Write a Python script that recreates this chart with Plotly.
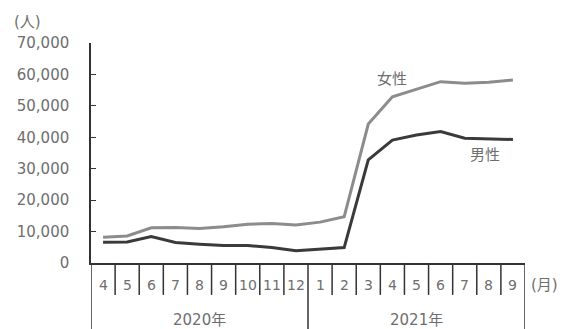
import plotly.graph_objects as go

months = ["4", "5", "6", "7", "8", "9", "10", "11", "12", "1", "2", "3", "4", "5", "6", "7", "8", "9"]
years = ["2020年", "2021年"]
year_counts = [9, 9]
female = [8200, 8600, 11200, 11300, 11000, 11500, 12300, 12600, 12100, 13000, 14700, 44200, 52900, 55200, 57700, 57200, 57500, 58200]
male = [6600, 6700, 8400, 6500, 6000, 5600, 5600, 4900, 3900, 4400, 4900, 32800, 39100, 40700, 41800, 39700, 39600, 39300]

xs = [i + 0.5 for i in range(len(months))]
FONT = "DejaVu Sans, Noto Sans CJK JP"
TXT = "#6e6e6e"
AX = "#333333"

fig = go.Figure()
fig.add_trace(go.Scatter(x=xs, y=female, mode="lines", line=dict(color="#8c8c8c", width=3), name="女性"))
fig.add_trace(go.Scatter(x=xs, y=male, mode="lines", line=dict(color="#3a3a3a", width=3), name="男性"))

shapes = []
ann = []
# y-axis extension down to bottom
shapes.append(dict(type="line", xref="x", yref="paper", x0=0, x1=0, y0=0, y1=-0.31, line=dict(color=AX, width=1.5)))
# category dividers
boundaries = set()
acc = 0
for c in year_counts:
    acc += c
    boundaries.add(acc)
for i in range(1, len(months) + 1):
    y1 = -0.31 if i in boundaries else -0.145
    shapes.append(dict(type="line", xref="x", yref="paper", x0=i, x1=i, y0=0, y1=y1, line=dict(color=AX, width=1.5)))
for i, m in enumerate(months):
    ann.append(dict(x=i + 0.5, y=-0.1, xref="x", yref="paper", text=m, showarrow=False,
                    font=dict(size=14, color=TXT, family=FONT), xanchor="center", yanchor="middle"))
start = 0
for yname, c in zip(years, year_counts):
    ann.append(dict(x=start + c / 2, y=-0.26, xref="x", yref="paper", text=yname, showarrow=False,
                    font=dict(size=15, color=TXT, family=FONT), xanchor="center", yanchor="middle"))
    start += c
ann.append(dict(x=1.01, y=-0.1, xref="paper", yref="paper", text="(月)", showarrow=False,
                font=dict(size=15, color=TXT, family=FONT), xanchor="left", yanchor="middle"))
ann.append(dict(x=-0.182, y=1.095, xref="paper", yref="paper", text="(人)", showarrow=False,
                font=dict(size=15, color=TXT, family=FONT), xanchor="left", yanchor="middle"))
# series labels
ann.append(dict(x=xs[12], y=female[12] + 5800, xref="x", yref="y", text="女性", showarrow=False,
                font=dict(size=15, color=TXT, family=FONT), xanchor="center", yanchor="middle"))
ann.append(dict(x=xs[16] - 0.15, y=male[16] - 5300, xref="x", yref="y", text="男性", showarrow=False,
                font=dict(size=15, color=TXT, family=FONT), xanchor="center", yanchor="middle"))

fig.update_layout(
    width=564, height=329,
    margin=dict(l=91, r=39, t=43, b=66),
    plot_bgcolor="white", paper_bgcolor="white",
    showlegend=False,
    shapes=shapes, annotations=ann,
    xaxis=dict(range=[0, 18], showline=True, linecolor=AX, linewidth=1.5, showgrid=False,
               zeroline=False, showticklabels=False, ticks=""),
    yaxis=dict(range=[0, 70000], dtick=10000, tickformat=",", showline=True, linecolor=AX, linewidth=1.5,
               showgrid=False, zeroline=False, ticks="inside", ticklen=5, tickcolor=AX,
               ticklabelstandoff=17,
               tickfont=dict(size=15, color=TXT, family=FONT)),
)
fig.write_html("out.html")
